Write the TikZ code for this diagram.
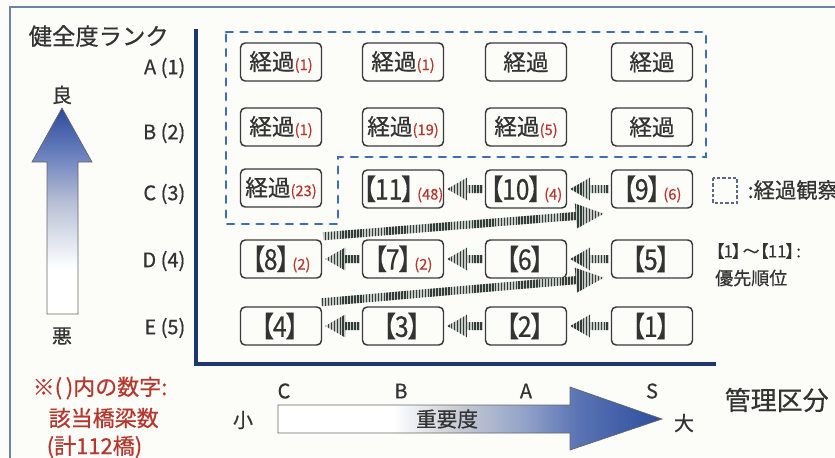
\documentclass[tikz,border=0pt]{standalone}
\usepackage{fontspec}
\setmainfont{Noto Sans CJK JP}[FakeBold=0.6]
\usetikzlibrary{calc,patterns.meta}
\definecolor{ink}{HTML}{333333}
\definecolor{rednum}{HTML}{B5372E}
\definecolor{navy}{HTML}{1E3672}
\definecolor{dashblue}{HTML}{3E6EB2}
\definecolor{stripe}{HTML}{333D37}
\definecolor{stripebg}{HTML}{C4C9C5}
\definecolor{framec}{HTML}{7080A8}
\definecolor{boxline}{HTML}{3A3A3A}
\definecolor{bgc}{HTML}{FCFCF8}
\definecolor{upmid}{HTML}{B8C0D6}
\definecolor{upmidb}{HTML}{6F84C0}
\definecolor{updark}{HTML}{2B4B9B}
\definecolor{rsa}{HTML}{C9CDD5}
\definecolor{rsb}{HTML}{93A3C9}
\definecolor{rsc}{HTML}{5A74B4}
\definecolor{rsd}{HTML}{2C4E9F}
\pgfdeclareverticalshading{upshade}{100bp}{color(0bp)=(white); color(36bp)=(white); color(52bp)=(upmid); color(63bp)=(upmidb); color(75bp)=(updark); color(100bp)=(updark)}
\pgfdeclarehorizontalshading{rtshade}{100bp}{color(0bp)=(white); color(40bp)=(white); color(48bp)=(rsa); color(57bp)=(rsb); color(64bp)=(rsc); color(75bp)=(rsd); color(100bp)=(rsd)}
\newcommand\fs[1]{\fontsize{#1}{#1}\selectfont}
\newcommand\rn[1]{{\fs{11}\color{rednum}(#1)}}
\newcommand\bkr[1]{\kern-0.45em【\kern-0.05em#1\kern-0.05em】\kern-0.35em}
\newcommand\bk[1]{{\fs{18.5}\scalebox{1}[1.15]{\bkr{#1}}}}
\newcommand\sarrow[5]{%
  \coordinate (hh) at ($(#2)!#3!(#1)$);
  \fill[stripes] ($(#1)!#4!90:(#2)$) -- ($(hh)!#4!90:(#2)$) -- ($(hh)!#5!90:(#2)$) -- (#2)
    -- ($(hh)!#5!-90:(#2)$) -- ($(hh)!#4!-90:(#2)$) -- ($(#1)!#4!-90:(#2)$) -- cycle;}
\begin{document}
\begin{tikzpicture}[x=0.75pt,y=-0.75pt,
  box/.style={draw=boxline, line width=1.1pt, rounded corners=3.5pt, fill=bgc,
    minimum width=60.75pt, minimum height=28.5pt, inner sep=0pt, font=\fs{17}, text=ink},
  rowlab/.style={anchor=east, font=\fs{15}, text=ink},
  collab/.style={font=\fs{15}, text=ink},
  redtxt/.style={anchor=west, font=\fs{16.5}, text=rednum},
  stripes/.style={preaction={fill=stripebg}, pattern={Lines[angle=90,distance=2.2pt,line width=1.1pt]}, pattern color=stripe},
  dashzone/.style={draw=dashblue, line width=2.2pt, line cap=round, dash pattern=on 5pt off 6pt}]
\useasboundingbox (0,0) rectangle (835,457);
\fill[bgc] (0,0) rectangle (835,457);
% outer frame
\draw[framec, line width=1.1pt] (10,7) rectangle (900,520);
% title
\node[anchor=west, font=\fs{17.5}, text=ink] (title) at (24,36) {健全度ランク};
% up arrow
\shade[shading=upshade, draw=black!60, line width=0.5pt] (32,162) -- (62,108) -- (92,162) -- (78,162) -- (78,314) -- (47,314) -- (47,162) -- cycle;
\node[font=\fs{15}, text=ink] (good) at (62,95) {良};
\node[font=\fs{15}, text=ink] (bad) at (62,336) {悪};
% axes
\coordinate (axtop) at (196,29);
\coordinate (axorg) at (196,364);
\coordinate (axend) at (716,364);
\draw[navy, line width=3pt] (axtop) -- (axorg) -- (axend);
% row labels
\node[rowlab] (la) at (190,68) {A (1)};
\node[rowlab] (lb) at (190,133) {B (2)};
\node[rowlab] (lc) at (190,194) {C (3)};
\node[rowlab] (ld) at (190,261) {D (4)};
\node[rowlab] (le) at (190,328) {E (5)};
% dashed zone
\draw[dashzone] (226,32) -- (706,32) -- (706,157) -- (338,157) -- (338,224) -- (226,224) -- cycle;
% boxes
\node[box] (a1) at (281,62) {経過\rn{1}};
\node[box] (a2) at (403,62) {経過\rn{1}};
\node[box] (a3) at (526,62) {経過};
\node[box] (a4) at (652,62) {経過};
\node[box] (b1) at (281,127) {経過\rn{1}};
\node[box] (b2) at (403,127) {経過\rn{19}};
\node[box] (b3) at (526,127) {経過\rn{5}};
\node[box] (b4) at (652,127) {経過};
\node[box] (c1) at (281,188) {経過\rn{23}};
\node[box] (n11) at (403,189) {\bk{11}\rn{48}};
\node[box] (n10) at (526,189) {\bk{10}\rn{4}};
\node[box] (n9) at (652,189) {\bk{9}\rn{6}};
\node[box] (n8) at (281,259) {\bk{8}\rn{2}};
\node[box] (n7) at (403,259) {\bk{7}\rn{2}};
\node[box] (n6) at (526,259) {\bk{6}};
\node[box] (n5) at (652,259) {\bk{5}};
\node[box] (n4) at (281,326) {\bk{4}};
\node[box] (n3) at (403,326) {\bk{3}};
\node[box] (n2) at (526,326) {\bk{2}};
\node[box] (n1) at (652,326) {\bk{1}};
% diagonal arrows
\coordinate (d1t) at ($(n4.north east)+(-1,-4)$);
\coordinate (d1h) at ($(n5.south west)+(-7,-1)$);
\sarrow{d1t}{d1h}{21pt}{3pt}{9.4pt}
\coordinate (d2t) at ($(n8.north east)+(1,-3)$);
\coordinate (d2h) at ($(n9.south west)+(-7,5)$);
\sarrow{d2t}{d2h}{21pt}{3pt}{9.4pt}
% horizontal arrows (right to left)
\foreach \r/\l in {n1/n2,n2/n3,n3/n4,n5/n6,n6/n7,n7/n8,n9/n10,n10/n11}{
  \coordinate (ht) at ($(\r.west)+(-2,0)$);
  \coordinate (hp) at ($(\l.east)+(3,0)$);
  \sarrow{ht}{hp}{15pt}{3pt}{8.6pt}
}
% legends
\draw[framec!80!black, line width=0.8pt, dash pattern=on 2.5pt off 1.5pt] (713,178) rectangle (737,203);
\node[anchor=west, font=\fs{16}, text=ink] (leg1) at (743,190) {:経過観察};
\node[anchor=west, font=\fs{12.5}, text=ink, inner sep=0pt] (leg2) at (715,251) {{\bkr{1}}〜{\bkr{11}}:};
\node[anchor=west, font=\fs{13.5}, text=ink, inner sep=0pt] (leg3) at (715,278) {優先順位};
% red note
\node[redtxt] (r1) at (28,388) {※(\,)内の数字:};
\node[redtxt] (r2) at (44,418) {該当橋梁数};
\node[redtxt] (r3) at (42,447) {(計112橋)};
% bottom importance arrow
\shade[shading=rtshade, draw=black!60, line width=0.5pt] (278,405) -- (570,405) -- (570,387) -- (662,419) -- (570,450) -- (570,433) -- (278,433) -- cycle;
\node[font=\fs{15.5}, text=ink] (imp) at (447,419) {重要度};
\node[font=\fs{15}, text=ink] (small) at (243,420) {小};
\node[font=\fs{15}, text=ink] (big) at (684,423) {大};
\node[collab] (kc) at (284,391) {C};
\node[collab] (kb) at (401,391) {B};
\node[collab] (ka) at (526,391) {A};
\node[collab] (ks) at (652,391) {S};
\node[anchor=west, font=\fs{19.5}, text=ink] (kanri) at (720,400) {管理区分};
\end{tikzpicture}
\end{document}
